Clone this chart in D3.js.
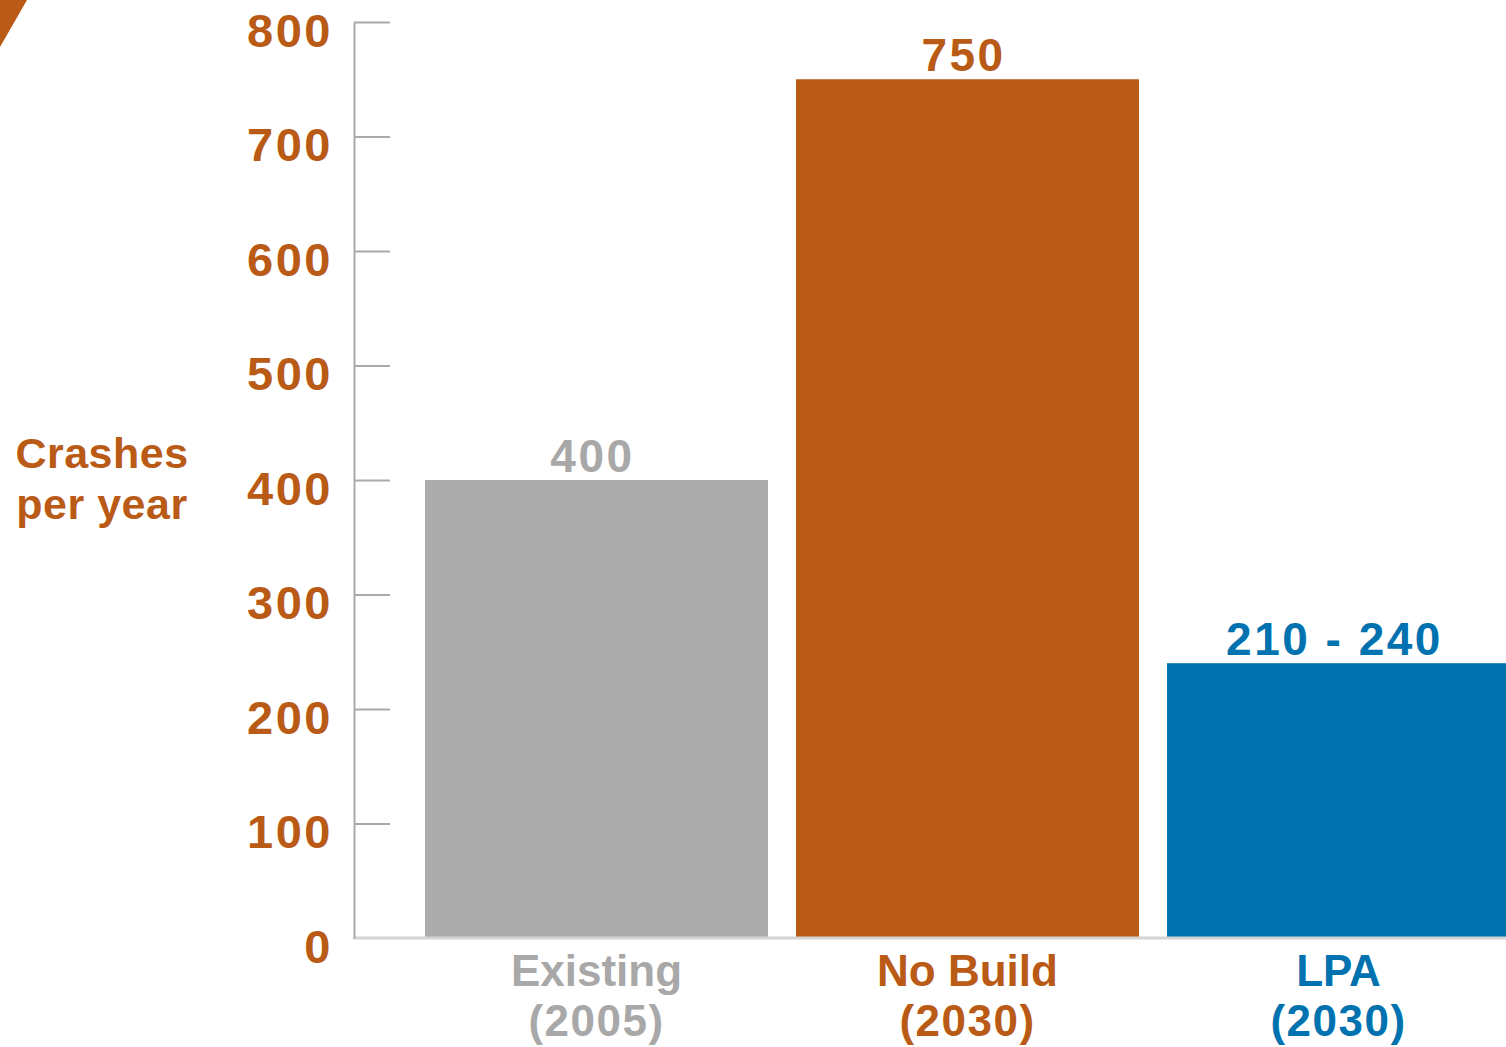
<!DOCTYPE html>
<html>
<head>
<meta charset="utf-8">
<script src="https://cdn.jsdelivr.net/npm/d3@7"></script>
<style>
  html, body { margin: 0; padding: 0; background: #fff; }
  svg { display: block; }
  text { font-family: "Liberation Sans", Arial, sans-serif; font-weight: bold; }
</style>
</head>
<body>
<svg id="chart" width="1506" height="1047"></svg>
<script>
const categories = ["Existing", "No Build", "LPA"]
const years = ["(2005)", "(2030)", "(2030)"]
const values = [400, 750, 240]
const valueLabels = ["400", "750", "210 - 240"]
const colors = ["#acacac", "#b95a16", "#0072af"]
const yTicks = [0, 100, 200, 300, 400, 500, 600, 700, 800]

const orange = "#b95a16"
const svg = d3.select("#chart")

const y = d3.scaleLinear().domain([0, 800]).range([938, 22])
const x = d3.scaleBand()
  .domain(categories)
  .range([411, 1524])
  .paddingInner(0.0755)
  .paddingOuter(0.0377)

// corner mark
svg.append("polygon")
  .attr("points", [[0, 0], [27, 0], [0, 47]].map((p) => p.join(",")).join(" "))
  .attr("fill", orange)

// bars
svg.append("g")
  .selectAll("rect")
  .data(values)
  .join("rect")
  .attr("x", (d, i) => x(categories[i]))
  .attr("y", (d) => y(d))
  .attr("width", x.bandwidth())
  .attr("height", (d) => y(0) - y(d))
  .attr("fill", (d, i) => colors[i])

// baseline
svg.append("line")
  .attr("x1", 353).attr("x2", 1506)
  .attr("y1", y(0)).attr("y2", y(0))
  .attr("stroke", "#d4d4d4")
  .attr("stroke-width", 3)

// y axis
const yaxis = svg.append("g")
  .attr("transform", "translate(354,0)")
  .call(
    d3.axisLeft(y)
      .tickValues(yTicks)
      .tickSizeInner(-36)
      .tickSizeOuter(0)
      .tickPadding(21)
      .tickFormat(d3.format("d"))
  )
yaxis.select(".domain").attr("stroke", "#aaa").attr("stroke-width", 2)
yaxis.selectAll(".tick line")
  .attr("stroke", "#aaa")
  .attr("stroke-width", 2)
  .attr("opacity", (d) => d === 0 ? 0 : 1)
yaxis.selectAll(".tick text")
  .attr("fill", orange)
  .attr("font-size", 47)
  .attr("dy", "0.52em")
  .attr("letter-spacing", 2.5)
  .style("font-family", "'Liberation Sans', Arial, sans-serif")
  .style("font-weight", "bold")

// y title
const title = svg.append("text")
  .attr("x", 102)
  .attr("y", 468)
  .attr("text-anchor", "middle")
  .attr("font-size", 43)
  .attr("letter-spacing", 0.5)
  .attr("fill", orange)
title.append("tspan").attr("x", 102).text("Crashes")
title.append("tspan").attr("x", 102).attr("dy", 51).text("per year")

// value labels
svg.append("g")
  .selectAll("text")
  .data(values)
  .join("text")
  .attr("x", (d, i) => x(categories[i]) + x.bandwidth() / 2 - 4)
  .attr("y", (d) => y(d) - 8)
  .attr("text-anchor", "middle")
  .attr("font-size", 46)
  .attr("letter-spacing", 2.5)
  .attr("fill", (d, i) => i === 0 ? "#a8a8a8" : colors[i])
  .text((d, i) => valueLabels[i])

// category labels
const cat = svg.append("g")
  .selectAll("text")
  .data(categories)
  .join("text")
  .attr("x", (d) => x(d) + x.bandwidth() / 2)
  .attr("y", 986)
  .attr("text-anchor", "middle")
  .attr("font-size", 44)
  .attr("fill", (d, i) => i === 0 ? "#a8a8a8" : colors[i])
cat.append("tspan").attr("x", (d) => x(d) + x.bandwidth() / 2).text((d) => d)
cat.append("tspan")
  .attr("x", (d) => x(d) + x.bandwidth() / 2)
  .attr("dy", 50)
  .attr("letter-spacing", 1.5)
  .text((d, i) => years[i])
</script>
</body>
</html>
